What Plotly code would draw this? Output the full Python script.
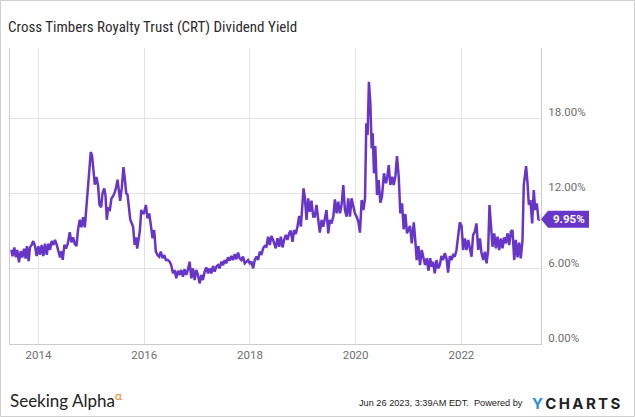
import plotly.graph_objects as go

# ---------------- data ----------------
dates_a = ["2013-06-27","2013-07-06","2013-07-18","2013-07-29","2013-08-07","2013-08-19","2013-08-31","2013-09-11",
           "2013-09-23","2013-10-04","2013-10-13","2013-10-25","2013-11-03","2013-11-15","2013-11-26","2013-12-08",
           "2013-12-19","2013-12-31","2014-01-11","2014-01-23","2014-02-03","2014-02-15","2014-02-27","2014-03-10",
           "2014-03-22","2014-04-02","2014-04-14","2014-04-25","2014-05-07","2014-05-18","2014-05-30","2014-06-08",
           "2014-06-17","2014-06-29","2014-07-10","2014-07-22","2014-08-05","2014-08-16","2014-08-28","2014-09-08",
           "2014-09-20","2014-10-01","2014-10-13","2014-10-25","2014-11-05","2014-11-17","2014-11-28","2014-12-10",
           "2014-12-17","2014-12-28","2015-01-06","2015-01-16","2015-01-25","2015-02-05","2015-02-17","2015-02-26",
           "2015-03-10","2015-03-19","2015-03-31","2015-04-09","2015-04-18","2015-04-27","2015-05-09","2015-05-20",
           "2015-06-01","2015-06-12","2015-06-22","2015-07-01","2015-07-10","2015-07-19","2015-07-31","2015-08-11",
           "2015-08-21","2015-08-30","2015-09-08","2015-09-17","2015-09-27","2015-10-08","2015-10-17","2015-10-27",
           "2015-11-05","2015-11-14","2015-11-23","2015-12-02","2015-12-12"]
yield_a = [7.5,7.0,7.7,6.9,7.5,6.5,7.4,6.9,7.6,6.8,7.8,6.6,7.7,7.9,8.2,7.8,
           7.0,7.8,7.1,7.9,7.0,8.0,7.1,8.0,7.5,8.2,7.9,8.3,7.9,7.4,6.9,7.4,
           6.7,7.9,7.6,8.0,8.9,8.1,8.5,8.0,7.8,9.1,9.9,9.3,10.1,9.3,10.9,13.1,
           13.6,15.3,15.0,13.9,12.7,13.3,12.6,11.1,10.9,12.0,12.4,11.8,9.9,10.8,10.7,11.6,
           11.8,12.1,12.5,13.1,12.3,11.4,12.5,14.1,13.1,12.0,11.9,11.1,9.9,9.6,9.3,7.9,
           8.5,7.6,8.2,9.0,10.7]

dates_b = ["2015-12-19","2015-12-30","2016-01-13","2016-01-24","2016-02-05","2016-02-16","2016-02-28","2016-03-10",
           "2016-03-22","2016-04-02","2016-04-14","2016-04-25","2016-05-07","2016-05-19","2016-05-30","2016-06-13",
           "2016-06-25","2016-07-06","2016-07-18","2016-07-29","2016-08-10","2016-08-21","2016-09-02","2016-09-13",
           "2016-09-25","2016-10-06","2016-10-18","2016-10-29","2016-11-10","2016-11-22","2016-12-03","2016-12-15",
           "2016-12-26","2017-01-07","2017-01-18","2017-01-30","2017-02-10","2017-02-22","2017-03-05","2017-03-17",
           "2017-03-28","2017-04-09","2017-04-21","2017-05-02","2017-05-14","2017-05-25","2017-06-06","2017-06-17",
           "2017-06-29","2017-07-10","2017-07-22","2017-08-02","2017-08-14","2017-08-25","2017-09-06","2017-09-18",
           "2017-09-29","2017-10-11","2017-10-22","2017-11-03","2017-11-14","2017-11-26","2017-12-07","2017-12-19",
           "2017-12-31","2018-01-11","2018-01-23","2018-02-03","2018-02-15","2018-02-26","2018-03-10","2018-03-21",
           "2018-04-02","2018-04-13","2018-04-25","2018-05-06","2018-05-18","2018-05-29","2018-06-10","2018-06-21"]
yield_b = [10.41,10.41,11.08,10.01,10.41,9.48,8.42,9.08,7.36,7.09,6.96,7.36,6.83,7.09,6.69,6.69,
           6.56,6.29,5.63,5.90,5.23,5.84,5.50,5.90,5.37,5.95,5.50,5.90,6.56,5.23,6.03,5.10,
           5.90,5.50,4.83,5.50,5.10,5.76,6.11,5.63,6.03,5.63,6.22,5.76,6.16,6.29,6.03,6.56,
           6.29,6.69,6.43,6.91,6.64,7.01,6.69,7.17,6.75,7.28,6.83,6.69,6.96,6.43,6.56,6.69,
           6.43,6.56,6.03,6.69,6.96,6.69,7.36,7.09,7.62,7.81,7.75,8.55,7.89,8.61,8.29,7.75]

dates_c = ["2018-06-28","2018-07-10","2018-07-22","2018-08-02","2018-08-14","2018-08-25","2018-09-06","2018-09-17",
           "2018-09-29","2018-10-10","2018-10-22","2018-11-02","2018-11-14","2018-11-25","2018-12-07","2018-12-19",
           "2018-12-30","2019-01-06","2019-01-15","2019-01-27","2019-02-07","2019-02-19","2019-03-02","2019-03-14",
           "2019-03-25","2019-04-06","2019-04-18","2019-04-29","2019-05-11","2019-05-22","2019-06-03","2019-06-14",
           "2019-06-26","2019-07-07","2019-07-19","2019-07-31","2019-08-11","2019-08-23","2019-09-03","2019-09-15",
           "2019-09-26","2019-10-08","2019-10-19","2019-10-31","2019-11-11","2019-11-23","2019-12-04","2019-12-16",
           "2019-12-27","2020-01-08","2020-01-20","2020-01-31","2020-02-12","2020-02-24","2020-03-06","2020-03-15",
           "2020-03-24","2020-04-02","2020-04-12","2020-04-21","2020-04-28","2020-05-07","2020-05-16","2020-05-28",
           "2020-06-08","2020-06-20","2020-07-01","2020-07-15","2020-07-29","2020-08-07","2020-08-17","2020-08-28",
           "2020-09-09","2020-09-20","2020-10-02","2020-10-13","2020-10-25","2020-11-05","2020-11-17","2020-11-28",
           "2020-12-10","2020-12-21"]
yield_c = [7.62,8.42,7.75,8.55,7.70,8.29,8.69,8.29,8.82,9.03,8.15,9.08,8.76,9.35,10.20,9.35,
           11.21,12.40,11.74,9.88,11.61,10.54,11.42,10.15,10.15,11.08,9.88,8.87,9.88,9.35,10.01,10.68,
           8.82,9.88,9.61,10.15,11.53,10.41,11.34,10.41,11.08,12.67,10.68,10.15,11.61,10.15,11.61,10.81,
           10.41,10.15,9.75,8.87,11.47,10.68,11.61,17.58,16.65,20.90,19.18,15.59,16.79,13.60,15.78,11.87,
           13.07,11.26,11.74,13.60,12.80,13.33,14.26,12.67,13.33,12.67,13.39,14.98,13.33,10.41,11.21,9.14,
           10.36,8.82]

dates_d = ["2020-12-31","2021-01-11","2021-01-23","2021-02-06","2021-02-17","2021-02-26","2021-03-10","2021-03-21",
           "2021-04-02","2021-04-13","2021-04-25","2021-05-07","2021-05-18","2021-05-30","2021-06-10","2021-06-19",
           "2021-07-01","2021-07-13","2021-07-24","2021-08-05","2021-08-16","2021-08-28","2021-09-08","2021-09-20",
           "2021-10-01","2021-10-13","2021-10-24","2021-11-05","2021-11-16","2021-11-28","2021-12-10","2021-12-21",
           "2022-01-02","2022-01-13","2022-01-25","2022-02-05","2022-02-17","2022-02-28","2022-03-12","2022-03-23",
           "2022-04-04","2022-04-15","2022-04-27","2022-05-09","2022-05-20","2022-06-01","2022-06-12","2022-06-24",
           "2022-07-05","2022-07-14","2022-07-24","2022-08-04","2022-08-16","2022-08-27","2022-09-08","2022-09-19",
           "2022-10-01","2022-10-12","2022-10-24","2022-11-04","2022-11-16","2022-11-27","2022-12-09","2022-12-20",
           "2023-01-01","2023-01-12","2023-01-24","2023-02-04","2023-02-15","2023-02-27","2023-03-08","2023-03-17",
           "2023-03-24","2023-04-03","2023-04-12","2023-04-23","2023-05-05","2023-05-16","2023-05-26","2023-06-06",
           "2023-06-18","2023-06-26"]
yield_d = [9.08,9.41,8.02,9.69,8.15,6.69,7.81,6.29,7.49,7.01,6.29,6.83,5.84,6.83,6.16,6.56,
           5.63,6.69,6.03,6.29,7.01,6.69,7.23,6.83,5.68,7.01,6.69,7.09,6.96,7.49,8.95,9.69,
           9.41,7.49,8.42,7.49,8.29,7.75,6.96,8.69,8.95,9.61,7.49,8.42,7.23,6.69,7.36,6.43,
           7.49,11.08,9.35,7.75,8.82,7.62,8.55,7.49,8.42,7.62,8.50,8.02,8.82,7.89,8.95,9.08,
           6.69,8.29,6.91,8.07,6.83,8.23,12.67,13.60,14.18,12.80,11.08,11.47,9.61,12.27,10.68,11.21,
           9.88,9.95]

year_ticks = ["2014-01-01", "2016-01-01", "2018-01-01", "2020-01-01", "2022-01-01"]
year_labels = ["2014", "2016", "2018", "2020", "2022"]
pct_ticks = [0, 6, 12, 18]
pct_labels = ["0.00%", "6.00%", "12.00%", "18.00%"]

title_text = "Cross Timbers Royalty Trust (CRT) Dividend Yield"
timestamp_text = "Jun 26 2023, 3:39AM EDT.\u00a0 Powered by"

dates = dates_a + dates_b + dates_c + dates_d
yields = yield_a + yield_b + yield_c + yield_d

# ---------------- styles ----------------
PURPLE = "#6835c9"
GRID = "#e3e3e3"
AXIS = "#cccccc"
TICK = "#6e6e6e"
W, H = 635, 417
ML, MR, MT, MB = 10, 94, 48, 73
PW, PH = W - ML - MR, H - MT - MB

def py(px_from_top):
    """paper y coordinate for a pixel row of the figure"""
    return (H - MB - px_from_top) / PH

def px(px_from_left):
    return (px_from_left - ML) / PW

fig = go.Figure()
fig.add_trace(go.Scatter(
    x=dates, y=yields, mode="lines",
    line=dict(color=PURPLE, width=2.5),
    hoverinfo="skip", showlegend=False,
))

fig.update_layout(
    width=W, height=H,
    margin=dict(l=ML, r=MR, t=MT, b=MB),
    paper_bgcolor="white", plot_bgcolor="white",
    showlegend=False,
    font=dict(family="Roboto", color=TICK),
    title=dict(text=title_text, x=8 / W, xref="container", xanchor="left",
               y=1 - 27 / H, yref="container", yanchor="middle",
               font=dict(family="Roboto Condensed, Liberation Sans Narrow, Roboto", size=15, color="#2b2b2b")),
    xaxis=dict(type="date", range=["2013-06-18", "2023-07-05"],
               tickvals=year_ticks, ticktext=year_labels,
               showgrid=True, gridcolor=GRID, gridwidth=1,
               showline=True, linecolor=AXIS, linewidth=1,
               ticks="", zeroline=False,
               tickfont=dict(family="Roboto", size=11.5, color=TICK)),
    yaxis=dict(range=[0, PH / 12.55], side="right",
               tickvals=pct_ticks, ticktext=pct_labels,
               showgrid=True, gridcolor=GRID, gridwidth=1,
               showline=True, mirror=True, linecolor=AXIS, linewidth=1,
               ticks="", zeroline=False, ticklabelshift=-6, ticklabelstandoff=4,
               tickfont=dict(family="Roboto", size=11.5, color=TICK)),
)

# outer frame of the image
fig.add_shape(type="rect", xref="paper", yref="paper",
              x0=px(0.5), x1=px(W - 0.5), y0=py(H - 0.5), y1=py(0.5),
              line=dict(color="#cfcfcf", width=1), fillcolor="rgba(0,0,0,0)", layer="above")

# last-value tag
last_val = yields[-1]
fig.add_shape(type="path", xref="paper", xsizemode="pixel", xanchor=1,
              yref="y", ysizemode="pixel", yanchor=last_val,
              path="M 0,0 L 7,8.5 L 48,8.5 L 48,-8.5 L 7,-8.5 Z",
              fillcolor=PURPLE, line=dict(width=0), layer="above")
fig.add_annotation(x=1, xref="paper", y=last_val, yref="y", xshift=27.5,
                   text=f"<b>{last_val:.2f}%</b>", showarrow=False,
                   font=dict(family="Roboto", size=11.5, color="white"),
                   xanchor="center", yanchor="middle")

# footer
fig.add_annotation(x=0, xref="paper", y=0, yref="paper", xshift=-2, yshift=-(399 - (H - MB)),
                   xanchor="left", yanchor="middle", showarrow=False,
                   text="Seeking Alpha<sup><span style='color:#f5821f'>α</span></sup>",
                   font=dict(family="Lato", size=17, color="#222222"))
fig.add_annotation(x=1, xref="paper", y=0, yref="paper", xshift=-16, yshift=-(403 - (H - MB)),
                   xanchor="right", yanchor="middle", showarrow=False,
                   text=timestamp_text,
                   font=dict(family="Liberation Sans", size=9.2, color="#222222"))
fig.add_annotation(x=1, xref="paper", y=0, yref="paper", xshift=-11, yshift=-(403 - (H - MB)),
                   xanchor="left", yanchor="middle", showarrow=False,
                   text="<b><span style='color:#2a8fdc'>Y</span>\u2009C\u2009H\u2009A\u2009R\u2009T\u2009S</b>",
                   font=dict(family="Inter", size=15, color="#222222"))

fig.write_html("out.html", config={"displayModeBar": False},
               post_script="document.body.style.margin='0px';")
